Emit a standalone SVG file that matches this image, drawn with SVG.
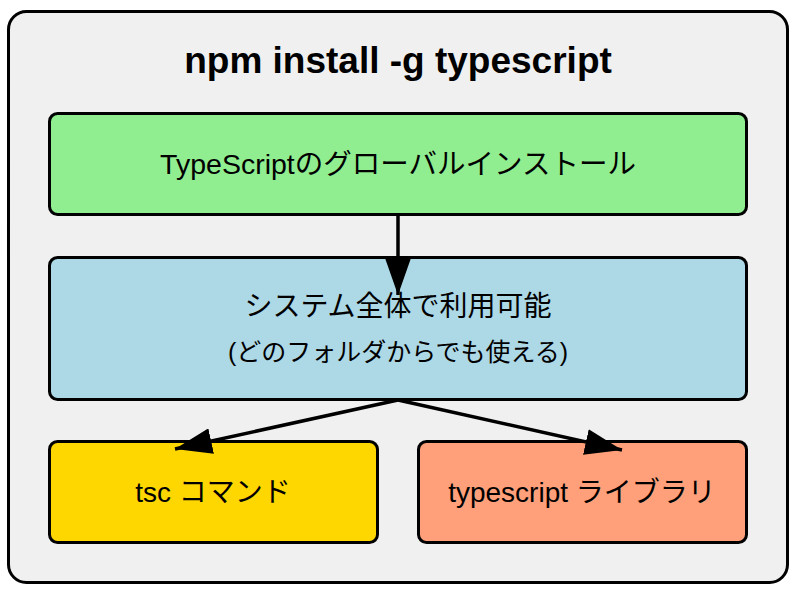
<svg xmlns="http://www.w3.org/2000/svg" width="796" height="591" viewBox="0 0 796 591">
<style>
.box{stroke:#000;stroke-width:3}
.t{font-family:"Liberation Sans","Noto Sans CJK JP",sans-serif;fill:#000;text-anchor:middle;dominant-baseline:central}
.e{stroke:#000;stroke-width:3.5;fill:none}
</style>
<defs>
<marker id="ah" viewBox="0 0 37 26" refX="37" refY="13" markerWidth="37" markerHeight="26" markerUnits="userSpaceOnUse" orient="auto">
<path d="M0,0 L37,13 L0,26 z" fill="#000"/>
</marker>
</defs>
<g id="container">
<rect x="8.5" y="11.5" width="779" height="571" rx="18" fill="#f0f0f0" class="box"/>
<text class="t" x="398" y="60" font-size="37" font-weight="bold">npm install -g typescript</text>
</g>
<g id="install">
<rect x="49.5" y="113.5" width="697" height="101" rx="8" fill="#90ee90" class="box"/>
<text class="t" x="398" y="164" font-size="28.5">TypeScriptのグローバルインストール</text>
</g>
<g id="system">
<rect x="49.5" y="257.5" width="697" height="142" rx="8" fill="#add8e6" class="box"/>
<text class="t" x="398" y="306" font-size="28">システム全体で利用可能</text>
<text class="t" x="398" y="352" font-size="25">(どのフォルダからでも使える)</text>
</g>
<g id="tsc">
<rect x="49.5" y="441.5" width="328" height="101" rx="8" fill="#ffd700" class="box"/>
<text class="t" x="213" y="492" font-size="28">tsc コマンド</text>
</g>
<g id="lib">
<rect x="418.5" y="441.5" width="328" height="101" rx="8" fill="#ffa07a" class="box"/>
<text class="t" x="582" y="492" font-size="28">typescript ライブラリ</text>
</g>
<g id="edges">
<line class="e" x1="398" y1="215" x2="398" y2="295" marker-end="url(#ah)"/>
<line class="e" x1="398" y1="400" x2="175" y2="449" marker-end="url(#ah)"/>
<line class="e" x1="398" y1="400" x2="622" y2="450" marker-end="url(#ah)"/>
</g>
</svg>
